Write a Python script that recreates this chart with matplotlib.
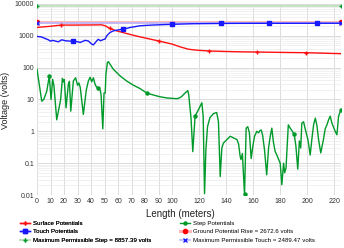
import numpy as np
import matplotlib
matplotlib.use("Agg")
import matplotlib.pyplot as plt
from matplotlib.ticker import FixedLocator, LogLocator, NullFormatter

plt.rcParams['font.family'] = ['Liberation Sans', 'DejaVu Sans']

# surface potentials (volts) along the profile
surf_x = [0, 9.6, 18, 29.4, 40, 47.9, 50.4, 54, 59, 66.4, 73.8, 82, 90, 100, 106,
          112, 118, 127, 140, 150, 163, 180, 199, 212, 225]
surf_v = [1840, 1990, 2180, 2180, 2200, 2220, 2070, 1700, 1430, 1180, 980, 820, 690,
          550, 450, 380, 355, 335, 322, 315, 310, 302, 295, 285, 275]
surf_marks = [18, 54, 90, 127, 163, 199]

touch_x = [0, 3, 5.9, 8.4, 10, 11.5, 13.3, 15.8, 18.3, 21, 23, 25, 27, 29.5, 31.9,
           33.5, 35.6, 38, 40.5, 41.7, 43, 44, 45.4, 47, 48.6, 50.5, 51.6, 54, 56.5,
           60.2, 64, 68.9, 76.3, 85, 100, 115, 136, 150, 172, 190, 207, 225]
touch_v = [955, 930, 830, 750, 680, 720, 690, 650, 750, 700, 690, 680, 690, 660, 620,
           660, 720, 690, 550, 520, 600, 680, 780, 700, 750, 800, 1000, 1270, 1430,
           1540, 1620, 1830, 2070, 2180, 2300, 2400, 2450, 2470, 2475, 2480, 2485, 2489]
touch_marks = [27, 64, 100, 136, 172, 207]

step_x = [0, 3.5, 5, 7.2, 9.1, 10.4, 11.6, 12.5, 14.6, 17.5, 18.8, 19.6, 20.2, 21.5,
          23.2, 24, 25, 26.9, 28.6, 30, 31, 32, 34.3, 36.5, 38, 39.3, 40.5, 41.7, 43,
          44, 45.4, 46.7, 47.4, 48.7, 49.6, 50.5, 51, 52.1, 52.8, 56.5, 61.5, 66.4,
          71.4, 76.3, 81.2, 86.2, 91, 96, 101, 103.5, 106, 107.2, 109.6, 111.6, 112.3,
          113.3, 114, 115.3, 117, 119.5, 122, 123, 124, 125, 126.2, 128, 130.6, 133,
          134.3, 135.6, 136.8, 138, 140.5, 143, 145.5, 148, 149.2, 150.4, 151, 152,
          153.6, 154.8, 156, 157.2, 158.5, 159.8, 161, 162.7, 164, 165, 166, 167,
          168.4, 170, 171.4, 172.6, 173.8, 175, 176.3, 177.5, 180, 181.2, 182.5,
          183.3, 184.3, 186, 187.2, 189, 190.4, 191.6, 193, 194.2, 195.2, 196, 197.3,
          198.5, 200.5, 202.2, 203.4, 204.7, 206, 207.2, 208.4, 210, 212, 213.3,
          214.6, 215.8, 217, 218.3, 220.7, 222, 223.2, 225]
step_v = [89, 8.9, 10, 18, 55, 10, 43, 28, 2.3, 10, 46, 36, 42, 5.5,
          30, 37, 4.3, 38, 48, 28, 33, 24, 3.4, 20, 38, 50, 36, 48, 30,
          25, 23, 20, 14.5, 1.2, 16, 16, 62, 145, 155, 89, 55, 38,
          28, 22, 16, 13.8, 12.2, 11.2, 10.8, 10.6, 11.5, 12.6, 16, 19, 14,
          5, 2.6, 0.23, 3, 4.8, 7.9, 3, 0.011, 0.26, 1.4, 2.7, 3.6, 3.9,
          2.0, 0.038, 0.3, 0.43, 0.55, 0.7, 0.62, 0.55, 0.4, 0.16, 0.13, 0.2,
          0.0105, 1.26, 1.4, 0.9, 0.14, 0.35, 0.7, 1.0, 0.9, 1.05, 1.1, 0.75,
          0.26, 0.043, 0.3, 0.69, 1.26, 0.45, 0.23, 0.18, 0.1, 0.021, 0.1,
          0.05, 0.07, 1.6, 1.3, 1.0, 0.8, 0.35, 0.065, 0.5, 0.3, 1.8, 2.0,
          1.2, 0.55, 0.18, 0.55, 1.6, 2.6, 1.5, 0.55, 0.21, 0.55, 1.2,
          1.6, 2.3, 3.0, 1.8, 1.0, 0.78, 3.0, 4.8]
step_marks = [9.1, 45.4, 81.2, 117, 153.6, 190.4, 225]

gpr = 2672.6
max_step = 8857.39
max_touch = 2489.47
x_span = [0, 225]

x_ticks = [0, 10, 20, 30, 40, 50, 60, 70, 80, 90, 100, 120, 140, 160, 180, 200, 220]
y_ticks = [0.01, 0.1, 1, 10, 100, 1000, 10000]
y_labels = ["0.01", "0.1", "1", "10", "100", "1000", "10000"]


def idx(xs, marks):
    return [xs.index(m) for m in marks]


fig = plt.figure(figsize=(3.44, 2.48), dpi=100)
ax = fig.add_axes([37 / 344, 1 - 195 / 248, 304 / 344, 191 / 248])

l_gpr, = ax.plot(x_span, [gpr, gpr], color='#ffb8b8', lw=2.2, marker='o', ms=3,
                 mfc='red', mec='red', zorder=2)
l_mt, = ax.plot(x_span, [max_touch, max_touch], color='#b8b8ff', lw=1.2, marker='x',
                ms=3, mec='#2020ff', zorder=2)
l_ms, = ax.plot(x_span, [max_step, max_step], color='#b8e0b8', lw=1.2, marker='+',
                ms=3, mec='#009a2a', mfc='#009a2a', zorder=2)

l_surf, = ax.plot(surf_x, surf_v, color='#ff1010', lw=1, marker='+', ms=3,
                  markevery=idx(surf_x, surf_marks), zorder=3)
l_touch, = ax.plot(touch_x, touch_v, color='#1818ff', lw=1, marker='s', ms=2.5,
                   markevery=idx(touch_x, touch_marks), zorder=3)
l_step, = ax.plot(step_x, step_v, color='#009a2a', lw=1, marker='o', ms=2.2,
                  markevery=idx(step_x, step_marks), zorder=3)

ax.set_yscale('log')
ax.set_xlim(0, 225)
ax.set_ylim(0.01, 10000)
ax.xaxis.set_major_locator(FixedLocator(x_ticks))
ax.set_xticklabels([str(t) for t in x_ticks])
ax.set_yticks(y_ticks)
ax.set_yticklabels(y_labels)
ax.yaxis.set_minor_locator(LogLocator(base=10, subs=np.arange(2, 10)))
ax.yaxis.set_minor_formatter(NullFormatter())
ax.tick_params(axis='both', which='both', length=0, labelsize=5, pad=2,
               labelcolor='#333333')
ax.grid(True, which='major', color='#dcdcdc', lw=0.7)
ax.grid(True, which='minor', axis='y', color='#ececec', lw=0.5)
ax.set_axisbelow(True)
for s in ax.spines.values():
    s.set_visible(False)

fig.text(180 / 344, 1 - 214 / 248, "Length (meters)", ha='center', va='center',
         fontsize=7, color='#222222')
fig.text(6 / 344, 1 - 100 / 248, "Voltage (volts)", ha='center', va='center',
         rotation=90, fontsize=6.5, color='#222222')

leg_kw = dict(loc='upper left', frameon=False, fontsize=4.4, handlelength=1.7,
              handletextpad=0.4, labelspacing=0.55, borderaxespad=0, borderpad=0)
leg1 = fig.legend([l_surf, l_touch, l_ms],
                  ["Surface Potentials", "Touch Potentials",
                   "Maximum Permissible Step = 8857.39 volts"],
                  bbox_to_anchor=(20 / 344, 1 - 220.5 / 248), **leg_kw)
fig.add_artist(leg1)
fig.legend([l_step, l_gpr, l_mt],
           ["Step Potentials", "Ground Potential Rise = 2672.6 volts",
            "Maximum Permissible Touch = 2489.47 volts"],
           bbox_to_anchor=(180 / 344, 1 - 220.5 / 248), **leg_kw)

fig.savefig("out.png", dpi=100)
